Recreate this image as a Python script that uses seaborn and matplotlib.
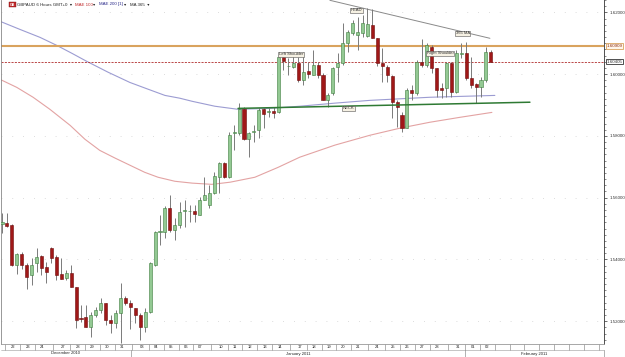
import numpy as np
import pandas as pd
import matplotlib
matplotlib.use('Agg')
from matplotlib import pyplot as plt
from matplotlib import transforms
import seaborn as sns

# GBPAUD 6 hour candles, left to right
opens = [1.5514, 1.5517, 1.5511, 1.5381, 1.5417, 1.5381, 1.5349, 1.5388, 1.5410, 1.5375,
         1.5436, 1.5407, 1.5352, 1.5339, 1.5355, 1.5310, 1.5210, 1.5213, 1.5181, 1.5220,
         1.5236, 1.5258, 1.5203, 1.5194, 1.5226, 1.5275, 1.5258, 1.5242, 1.5220, 1.5181,
         1.5229, 1.5381, 1.5488, 1.5488, 1.5566, 1.5495, 1.5511, 1.5556, 1.5556, 1.5556,
         1.5543, 1.5592, 1.5575, 1.5614, 1.5666, 1.5711, 1.5666, 1.5808, 1.5808, 1.5886,
         1.5789, 1.5812, 1.5818, 1.5886, 1.5876, 1.5880, 1.5876, 1.6054, 1.6025, 1.6022,
         1.6035, 1.5980, 1.6009, 1.5996, 1.6028, 1.5996, 1.5915, 1.5938, 1.6022, 1.6035,
         1.6100, 1.6132, 1.6126, 1.6132, 1.6122, 1.6158, 1.6116, 1.6035, 1.6022, 1.5993,
         1.5909, 1.5867, 1.5825, 1.5948, 1.5938, 1.6038, 1.6028, 1.6087, 1.6019, 1.5954,
         1.5954, 1.6035, 1.5941, 1.6064, 1.6067, 1.5986, 1.5967, 1.5957, 1.5980, 1.6071]
highs = [1.5550, 1.5550, 1.5514, 1.5420, 1.5423, 1.5388, 1.5404, 1.5436, 1.5414, 1.5391,
         1.5440, 1.5414, 1.5404, 1.5365, 1.5381, 1.5310, 1.5252, 1.5252, 1.5229, 1.5245,
         1.5275, 1.5258, 1.5220, 1.5236, 1.5323, 1.5281, 1.5268, 1.5242, 1.5226, 1.5242,
         1.5391, 1.5491, 1.5543, 1.5572, 1.5608, 1.5534, 1.5585, 1.5592, 1.5575, 1.5575,
         1.5601, 1.5666, 1.5640, 1.5682, 1.5715, 1.5715, 1.5812, 1.5834, 1.5906, 1.5893,
         1.5812, 1.5834, 1.5889, 1.5889, 1.5889, 1.5893, 1.6058, 1.6071, 1.6051, 1.6061,
         1.6054, 1.6071, 1.6038, 1.6077, 1.6038, 1.6003, 1.5938, 1.6022, 1.6067, 1.6164,
         1.6142, 1.6174, 1.6184, 1.6190, 1.6213, 1.6210, 1.6116, 1.6084, 1.6028, 1.5996,
         1.5915, 1.5876, 1.5954, 1.5964, 1.6045, 1.6113, 1.6100, 1.6093, 1.6019, 1.5970,
         1.6038, 1.6038, 1.6077, 1.6100, 1.6103, 1.6054, 1.5970, 1.5990, 1.6087, 1.6077]
lows = [1.5485, 1.5504, 1.5378, 1.5352, 1.5368, 1.5304, 1.5317, 1.5359, 1.5349, 1.5323,
        1.5388, 1.5333, 1.5336, 1.5333, 1.5310, 1.5177, 1.5197, 1.5181, 1.5148, 1.5213,
        1.5226, 1.5187, 1.5161, 1.5177, 1.5129, 1.5252, 1.5174, 1.5194, 1.5139, 1.5164,
        1.5226, 1.5378, 1.5446, 1.5469, 1.5488, 1.5462, 1.5501, 1.5504, 1.5520, 1.5520,
        1.5543, 1.5592, 1.5566, 1.5611, 1.5614, 1.5663, 1.5663, 1.5753, 1.5802, 1.5786,
        1.5731, 1.5779, 1.5792, 1.5825, 1.5860, 1.5857, 1.5873, 1.6012, 1.5996, 1.6019,
        1.5973, 1.5964, 1.5986, 1.5996, 1.5986, 1.5915, 1.5893, 1.5931, 1.5973, 1.6028,
        1.6071, 1.6126, 1.6077, 1.6119, 1.6119, 1.6116, 1.6025, 1.5973, 1.5973, 1.5857,
        1.5828, 1.5812, 1.5825, 1.5915, 1.5931, 1.6022, 1.6022, 1.6003, 1.5925, 1.5922,
        1.5925, 1.5925, 1.5938, 1.6051, 1.5980, 1.5954, 1.5906, 1.5925, 1.5973, 1.6038]
closes = [1.5520, 1.5507, 1.5381, 1.5417, 1.5381, 1.5342, 1.5381, 1.5407, 1.5372, 1.5359,
          1.5404, 1.5349, 1.5336, 1.5355, 1.5310, 1.5203, 1.5208, 1.5181, 1.5220, 1.5236,
          1.5258, 1.5203, 1.5194, 1.5226, 1.5275, 1.5258, 1.5245, 1.5220, 1.5181, 1.5229,
          1.5388, 1.5488, 1.5491, 1.5566, 1.5495, 1.5511, 1.5553, 1.5559, 1.5557, 1.5546,
          1.5592, 1.5608, 1.5614, 1.5669, 1.5711, 1.5666, 1.5802, 1.5812, 1.5886, 1.5789,
          1.5808, 1.5815, 1.5883, 1.5870, 1.5880, 1.5873, 1.6054, 1.6041, 1.6027, 1.6035,
          1.5980, 1.6006, 1.6000, 1.6028, 1.5996, 1.5915, 1.5931, 1.6019, 1.6035, 1.6100,
          1.6135, 1.6164, 1.6135, 1.6164, 1.6161, 1.6116, 1.6035, 1.6025, 1.5996, 1.5909,
          1.5893, 1.5825, 1.5948, 1.5938, 1.6038, 1.6028, 1.6093, 1.6019, 1.5948, 1.5948,
          1.6035, 1.5941, 1.6067, 1.6067, 1.5986, 1.5964, 1.5957, 1.5980, 1.6071, 1.6038]

mae100_bar = [-0.4, 3.0, 6.3, 9.7, 13.8, 16.8, 19.8, 22.9, 25.9, 28.9, 31.6, 35.0, 38.5,
              42.5, 46.2, 51.2, 55.9, 60.3, 67.4, 74.5, 80.6, 86.6, 92.7, 99.2]
mae100_val = [1.5983, 1.5957, 1.5925, 1.5886, 1.5834, 1.5789, 1.5753, 1.5728, 1.5705, 1.5682,
              1.5666, 1.5653, 1.5647, 1.5643, 1.5650, 1.5666, 1.5698, 1.5731, 1.5770, 1.5802,
              1.5825, 1.5844, 1.5860, 1.5876]
mae200_bar = [-0.4, 3.6, 7.7, 11.1, 14.2, 17.2, 21.5, 25.9, 29.6, 33.0, 36.0, 38.5, 43.1,
              47.8, 54.3, 60.3, 67.4, 74.5, 86.6, 99.8]
mae200_val = [1.6171, 1.6145, 1.6119, 1.6093, 1.6067, 1.6041, 1.6006, 1.5973, 1.5951, 1.5931,
              1.5922, 1.5912, 1.5896, 1.5886, 1.5889, 1.5896, 1.5906, 1.5915, 1.5925, 1.5931]
ma365_bar = [66.4, 98.8]
ma365_val = [1.6239, 1.6116]
neck_bar = [47.8, 106.9]
neck_val = [1.5889, 1.5909]
resistance = 1.60909
last_price = 1.60405

day_labels = ['22', '23', '24', '27', '28', '29', '30', '31', '03', '04', '05', '06', '07',
              '10', '11', '12', '13', '14', '17', '18', '19', '20', '21', '24', '25', '26',
              '27', '28', '31', '01', '02']
day_bar = [2.2, 5.2, 8.2, 12.3, 15.3, 18.3, 21.3, 24.3, 28.3, 31.3, 34.3, 37.2, 40.2,
           44.3, 47.2, 50.2, 53.2, 56.2, 60.3, 63.2, 66.2, 69.1, 72.1, 76.0, 79.1, 82.1,
           85.1, 88.1, 92.4, 95.3, 98.3]
month_labels = ['December 2010', 'January 2011', 'February 2011']
month_start = [-0.2, 26.1, 93.7]

df = pd.DataFrame({'open': opens, 'high': highs, 'low': lows, 'close': closes})
df['bar'] = np.arange(len(df))
df['up'] = df['close'] >= df['open']

sns.set_style('white')
plt.rcParams['font.family'] = ['Liberation Sans', 'DejaVu Sans']

fig = plt.figure(figsize=(6.25, 3.57), dpi=100)
ax = fig.add_axes([1 / 625, 1 - 344 / 357, 603 / 625, 344 / 357])
x_right = 121.9
ax.set_xlim(-0.2, x_right)
ax.set_ylim(1.5126, 1.6239)

# grid
for yv in np.arange(1.52, 1.621, 0.02):
    ax.axhline(yv, color='#d0d0d0', lw=0.6, ls=(0, (1, 12)), zorder=0)

# indicators
sns.lineplot(x=mae100_bar, y=mae100_val, ax=ax, color='#e3a3a3', lw=0.8, sort=False, zorder=1)
sns.lineplot(x=mae200_bar, y=mae200_val, ax=ax, color='#9c9cd2', lw=0.8, sort=False, zorder=1)
sns.lineplot(x=ma365_bar, y=ma365_val, ax=ax, color='#8a8a8a', lw=0.7, sort=False, zorder=1)
ax.axhline(resistance, color='#d9a35e', lw=1.5, zorder=1)
ax.axhline(last_price, color='#b02a2a', lw=0.6, ls=(0, (2.5, 1.5)), zorder=1)
sns.lineplot(x=neck_bar, y=neck_val, ax=ax, color='#2f7a34', lw=1.1, sort=False, zorder=4)

# candles
up = df[df['up']]
dn = df[~df['up']]
ax.vlines(df['bar'], df['low'], df['high'], color='#7a7a7a', lw=0.7, zorder=2)
min_h = 0.00012
ax.bar(up['bar'], np.maximum(up['close'] - up['open'], min_h), bottom=up['open'],
       width=0.62, color='#93c993', edgecolor='#3e7e3e', lw=0.4, zorder=3)
ax.bar(dn['bar'], np.maximum(dn['open'] - dn['close'], min_h), bottom=dn['close'],
       width=0.62, color='#a01818', edgecolor='#6e0c0c', lw=0.4, zorder=3)

# pattern labels
box = dict(boxstyle='square,pad=0.15', fc='#f6f1e3', ec='#555555', lw=0.4)
for txt, bx, by in [('HEAD', 71.7, 1.6206), ('Left Shoulder', 58.5, 1.6064),
                    ('Right Shoulder', 88.7, 1.6067), ('365 MA', 93.3, 1.6132),
                    ('NECK', 70.2, 1.5889)]:
    ax.text(bx, by, txt, fontsize=3, ha='center', va='center', color='#333333', bbox=box, zorder=5)

# price axis on the right
ax.yaxis.tick_right()
ax.set_yticks(np.arange(1.52, 1.621, 0.02))
ax.set_yticks(np.arange(1.514, 1.624, 0.002), minor=True)
ax.yaxis.set_major_formatter(matplotlib.ticker.FormatStrFormatter('%.5f'))
ax.tick_params(axis='y', which='major', length=2.5, width=0.5, labelsize=3.2, pad=1.5,
               colors='#333333')
ax.tick_params(axis='y', which='minor', length=1.5, width=0.4, colors='#333333')
trans_y = transforms.blended_transform_factory(ax.transAxes, ax.transData)
ax.text(1.004, resistance, '%.5f' % resistance, transform=trans_y, fontsize=3.2, va='center',
        color='#8a2a10', bbox=dict(boxstyle='square,pad=0.2', fc='#fff6ea', ec='#d9a35e', lw=0.6))
ax.text(1.004, last_price, '%.5f' % last_price, transform=trans_y, fontsize=3.2, va='center',
        color='#333333', bbox=dict(boxstyle='square,pad=0.2', fc='white', ec='#333333', lw=0.6))

# date axis: day row and month row
ax.set_xticks([])
trans_x = ax.get_xaxis_transform()
row1 = -6 / 344
row2 = -13 / 344
seps = [(a + b) / 2 for a, b in zip(day_bar[:-1], day_bar[1:])]
seps = [day_bar[0] - 1.5] + seps + list(np.arange(day_bar[-1] + 1.5, x_right, 3.0))
for s in seps:
    ax.plot([s, s], [0, row1], transform=trans_x, color='#777777', lw=0.4, clip_on=False)
for lab, b in zip(day_labels, day_bar):
    ax.text(b, row1 / 2, lab, transform=trans_x, fontsize=3, ha='center', va='center', color='#222222')
ax.plot([-0.2, x_right], [row1, row1], transform=trans_x, color='#999999', lw=0.4, clip_on=False)
month_end = month_start[1:] + [x_right]
for lab, a, b in zip(month_labels, month_start, month_end):
    ax.plot([b, b], [row1, row2 - 0.01], transform=trans_x, color='#777777', lw=0.4, clip_on=False)
    ax.text((a + b) / 2, (row1 + row2) / 2, lab, transform=trans_x, fontsize=3, ha='center',
            va='center', color='#222222')

ax.spines['top'].set_visible(False)
ax.spines['left'].set_color('#888888')
ax.spines['bottom'].set_color('#999999')
ax.spines['right'].set_color('#333333')
for sp in ax.spines.values():
    sp.set_linewidth(0.6)

# header line
hy = 1 - 4.5 / 357
fig.text(10 / 625, hy, 'GB', fontsize=2.5, color='white', va='center', fontweight='bold',
         bbox=dict(boxstyle='square,pad=0.2', fc='#c0282a', ec='#801010', lw=0.3))
fig.text(17 / 625, hy, 'GBPAUD 6 Hours GMT+0  \u25be', fontsize=3.2, va='center', color='#222222')
fig.text(75 / 625, hy, 'MAE 100', fontsize=3.2, va='center', color='#c0282a')
fig.text(93 / 625, hy, '\u25be', fontsize=3.2, va='center', color='#222222')
fig.text(99 / 625, hy, 'MAE 200 [1]', fontsize=3.2, va='center', color='#2a2a8a')
fig.text(124 / 625, hy, '\u25be', fontsize=3.2, va='center', color='#222222')
fig.text(130 / 625, hy, 'MA 365  \u25be', fontsize=3.2, va='center', color='#222222')

fig.savefig('out.png', dpi=100)
